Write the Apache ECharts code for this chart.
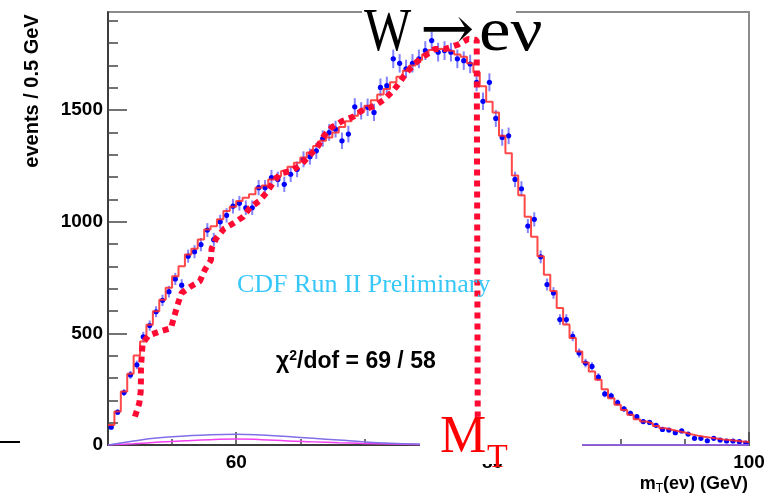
<!DOCTYPE html>
<html>
<head>
<meta charset="utf-8">
<script src="https://cdn.jsdelivr.net/npm/echarts@6/dist/echarts.min.js"></script>
<style>
  html, body { margin: 0; padding: 0; background: #fff; }
  #chart { width: 776px; height: 501px; }
</style>
</head>
<body>
<div id="chart"></div>
<script>
// m_T(e nu) spectrum, 0.5 GeV bins from 50 to 100 GeV
var binLow = 50;
var binWidth = 0.5;

// data counts per bin (blue points)
var dataCounts = [
    80, 147, 235, 314, 359, 485, 535, 597, 648, 687,
    744, 716, 846, 866, 898, 963, 920, 1000, 1029, 1070,
    1083, 1063, 1063, 1153, 1153, 1198, 1190, 1168, 1213, 1235,
    1280, 1292, 1318, 1373, 1400, 1415, 1363, 1393, 1515, 1497,
    1513, 1490, 1602, 1610, 1730, 1710, 1685, 1710, 1730, 1767,
    1812, 1760, 1767, 1760, 1730, 1722, 1707, 1625, 1540, 1625,
    1463, 1378, 1385, 1190, 1148, 981, 1011, 843, 719, 681,
    562, 562, 487, 412, 367, 352, 304, 229, 220, 190,
    162, 142, 127, 105, 101, 88, 70, 67, 55, 63,
    49, 30, 30, 19, 30, 22, 18, 18, 15, 8
];

// simulation histogram (red steps)
var mcCounts = [
    90, 150, 240, 319, 401, 464, 539, 599, 651, 704,
    756, 801, 853, 879, 921, 966, 980, 1011, 1048, 1068,
    1093, 1108, 1123, 1153, 1163, 1190, 1205, 1228, 1247, 1265,
    1288, 1310, 1340, 1363, 1378, 1400, 1425, 1450, 1475, 1497,
    1520, 1545, 1570, 1595, 1625, 1650, 1677, 1700, 1725, 1750,
    1770, 1775, 1767, 1765, 1750, 1740, 1710, 1670, 1607, 1538,
    1490, 1385, 1307, 1208, 1119, 1023, 933, 846, 763, 690,
    614, 540, 479, 419, 370, 329, 292, 250, 210, 180,
    157, 135, 115, 105, 97, 85, 75, 68, 62, 56,
    48, 42, 37, 33, 29, 25, 22, 19, 16, 13
];

// backgrounds (smooth curves near the axis)
var bkgX = [50, 52, 54, 56, 58, 60, 62, 64, 66, 68, 70, 72, 74, 76, 80, 90, 100];
var bkgA = [0, 18, 32, 40, 46, 48, 45, 38, 30, 22, 14, 8, 4, 2, 1, 0.5, 0];
var bkgB = [0, 6, 13, 19, 24, 27, 24, 18, 14, 10, 7, 4, 2, 1, 0.5, 0.2, 0];

// hand drawn red dotted sketch (GeV, events)
var sketchPath = [
    [52.10, 127], [52.44, 187], [52.55, 239], [52.57, 292], [52.57, 346],
    [52.63, 400], [52.70, 454], [53.14, 490], [54.05, 509], [54.91, 524],
    [55.17, 576], [55.43, 629], [55.74, 681], [56.39, 708], [57.17, 734],
    [57.56, 786], [58.03, 828], [58.08, 879], [58.42, 924], [59.06, 969],
    [59.77, 993], [60.55, 1023], [61.07, 1063], [61.79, 1093], [62.37, 1131],
    [62.88, 1176], [63.46, 1217], [64.32, 1228], [65.10, 1258], [65.74, 1298],
    [66.39, 1340], [66.84, 1385], [67.44, 1423], [68.29, 1452], [69.17, 1472],
    [69.77, 1497], [70.81, 1520], [71.59, 1550], [72.24, 1587], [72.76, 1625],
    [73.28, 1670], [74.06, 1715], [74.71, 1744], [75.49, 1774], [76.27, 1774],
    [77.30, 1794], [78.08, 1819], [78.76, 1815], [78.84, 126]
];

// axis ticks
var xMajorTicks = [60, 80, 100];
var yMajorTicks = [0, 500, 1000, 1500];
var yMinorTicks = [100, 200, 300, 400, 600, 700, 800, 900, 1100, 1200, 1300, 1400, 1600, 1700, 1800, 1900];

var sans = 'Liberation Sans, Arial, sans-serif';
var serif = 'Liberation Serif, Times New Roman, serif';

function buildSteps(counts) {
    var pts = [];
    for (var i = 0; i < counts.length; i++) {
        pts.push([binLow + i * binWidth, counts[i]]);
    }
    pts.push([binLow + counts.length * binWidth, counts[counts.length - 1]]);
    return pts;
}

function buildPoints(counts) {
    var pts = [];
    for (var i = 0; i < counts.length; i++) {
        pts.push([binLow + (i + 0.5) * binWidth, counts[i], Math.sqrt(counts[i])]);
    }
    return pts;
}

function zipXY(xs, ys) {
    return xs.map(function (x, i) { return [x, ys[i]]; });
}

function renderPoint(params, api) {
    var x = api.value(0), y = api.value(1), e = api.value(2);
    var c = api.coord([x, y]);
    var top = api.coord([x, y + e]);
    var bot = api.coord([x, y - e]);
    var l = api.coord([x - 0.18, y]);
    var r = api.coord([x + 0.18, y]);
    var barStyle = { stroke: 'rgba(30,30,255,0.55)', lineWidth: 2 };
    return {
        type: 'group',
        children: [
            { type: 'line', shape: { x1: c[0], y1: top[1], x2: c[0], y2: bot[1] }, style: barStyle },
            { type: 'line', shape: { x1: l[0], y1: c[1], x2: r[0], y2: c[1] }, style: barStyle },
            { type: 'circle', shape: { cx: c[0], cy: c[1], r: 2.6 }, style: { fill: '#0000ff' } }
        ]
    };
}

function plainNumber(v) {
    return String(v);
}

var chart = echarts.init(document.getElementById('chart'), null, { renderer: 'canvas' });

var option = {
    animation: false,
    backgroundColor: '#fff',
    grid: {
        left: 108, right: 27, top: 12, bottom: 56,
        show: true, borderColor: '#8c8c8c', borderWidth: 2
    },
    xAxis: [
        {
            type: 'value', min: 50, max: 100, interval: 5,
            axisLine: { show: true, lineStyle: { color: '#222', width: 1.5 } },
            axisTick: { inside: true, length: 6, lineStyle: { color: '#444', width: 1.5 } },
            axisLabel: { show: false },
            splitLine: { show: false }
        },
        {
            type: 'value', min: 50, max: 100, position: 'bottom',
            axisLine: { show: false },
            axisTick: { inside: true, length: 13, customValues: xMajorTicks, lineStyle: { color: '#444', width: 1.5 } },
            axisLabel: {
                customValues: xMajorTicks, margin: 8, formatter: plainNumber,
                fontFamily: sans, fontWeight: 'bold', fontSize: 19, color: '#000'
            },
            splitLine: { show: false }
        }
    ],
    yAxis: [
        {
            type: 'value', min: 0, max: 1940,
            axisLine: { show: true, lineStyle: { color: '#222', width: 1.5 } },
            axisTick: { inside: true, length: 10, customValues: yMinorTicks, lineStyle: { color: '#444', width: 1.5 } },
            axisLabel: { show: false },
            splitLine: { show: false }
        },
        {
            type: 'value', min: 0, max: 1940, position: 'left',
            axisLine: { show: false },
            axisTick: { inside: true, length: 19, customValues: yMajorTicks, lineStyle: { color: '#444', width: 1.5 } },
            axisLabel: {
                customValues: yMajorTicks, margin: 5, formatter: plainNumber,
                fontFamily: sans, fontWeight: 'bold', fontSize: 19, color: '#000'
            },
            splitLine: { show: false }
        }
    ],
    series: [
        {
            name: 'bkg2', type: 'line', smooth: true, symbol: 'none', silent: true,
            data: zipXY(bkgX, bkgB),
            lineStyle: { color: '#f040f0', width: 1.5 }
        },
        {
            name: 'bkg1', type: 'line', smooth: true, symbol: 'none', silent: true,
            data: zipXY(bkgX, bkgA),
            lineStyle: { color: '#7f6fe8', width: 1.5 }
        },
        {
            name: 'MC', type: 'line', step: 'end', symbol: 'none', silent: true,
            data: buildSteps(mcCounts),
            lineStyle: { color: 'rgba(255,40,40,0.85)', width: 2 }
        },
        {
            name: 'data', type: 'custom', silent: true,
            renderItem: renderPoint,
            data: buildPoints(dataCounts),
            z: 3
        },
        {
            name: 'sketch', type: 'line', symbol: 'none', silent: true,
            data: sketchPath,
            lineStyle: { color: '#ff0a32', width: 6, type: [6, 5], cap: 'butt' },
            z: 4
        }
    ],
    graphic: [
        // stray mark left of the axis
        { type: 'line', z: 100, shape: { x1: 0, y1: 442, x2: 20, y2: 442 }, style: { stroke: '#000', lineWidth: 2 } },
        // white patches behind the pasted labels
        { type: 'rect', z: 100, shape: { x: 362, y: 0, width: 154, height: 26 }, style: { fill: '#fff' } },
        { type: 'rect', z: 100, shape: { x: 420, y: 419, width: 162, height: 45 }, style: { fill: '#fff' } },
        // W -> e nu, pieces placed separately
        {
            type: 'text', z: 101, x: 364, y: 3, scaleY: 1.22,
            style: { text: 'W', font: '50px ' + serif, fill: '#000', verticalAlign: 'top' }
        },
        {
            type: 'text', z: 101, x: 420, y: 3, scaleX: 1.3, scaleY: 1.22,
            style: { text: '\u2192', font: '50px DejaVu Serif, serif', fill: '#000', verticalAlign: 'top' }
        },
        {
            type: 'text', z: 101, x: 479, y: 3, scaleX: 1.42, scaleY: 1.22,
            style: { text: 'e\u03bd', font: '50px ' + serif, fill: '#000', verticalAlign: 'top' }
        },
        {
            type: 'text', z: 101, x: 440, y: 438,
            style: { text: 'M', font: '52px ' + serif, fill: '#ff0000', verticalAlign: 'middle' }
        },
        {
            type: 'text', z: 101, x: 487, y: 458,
            style: { text: 'T', font: '34px ' + serif, fill: '#ff0000', verticalAlign: 'middle' }
        },
        {
            type: 'text', z: 101, x: 237, y: 285,
            style: { text: 'CDF Run II Preliminary', font: '26px ' + serif, fill: '#38c8f8', verticalAlign: 'middle' }
        },
        {
            type: 'text', z: 101, x: 276, y: 362,
            style: {
                text: '{c|\u03c7}{s|2}{c|/dof = 69 / 58}',
                verticalAlign: 'middle',
                rich: {
                    c: { fontFamily: sans, fontWeight: 'bold', fontSize: 23, fill: '#000' },
                    s: { fontFamily: sans, fontWeight: 'bold', fontSize: 14, fill: '#000', padding: [0, 0, 12, 0] }
                }
            }
        },
        {
            type: 'text', z: 101, x: 32, y: 91, rotation: Math.PI / 2,
            style: {
                text: 'events / 0.5 GeV', font: 'bold 20px ' + sans, fill: '#000',
                align: 'center', verticalAlign: 'middle'
            }
        },
        {
            type: 'text', z: 101, x: 748, y: 484,
            style: {
                text: '{a|m}{b|T}{a|(e\u03bd) (GeV)}',
                align: 'right', verticalAlign: 'middle',
                rich: {
                    a: { fontFamily: sans, fontWeight: 'bold', fontSize: 18, fill: '#000' },
                    b: { fontFamily: sans, fontSize: 12, fill: '#000', padding: [10, 0, 0, 0] }
                }
            }
        }
    ]
};

chart.setOption(option);
</script>
</body>
</html>
